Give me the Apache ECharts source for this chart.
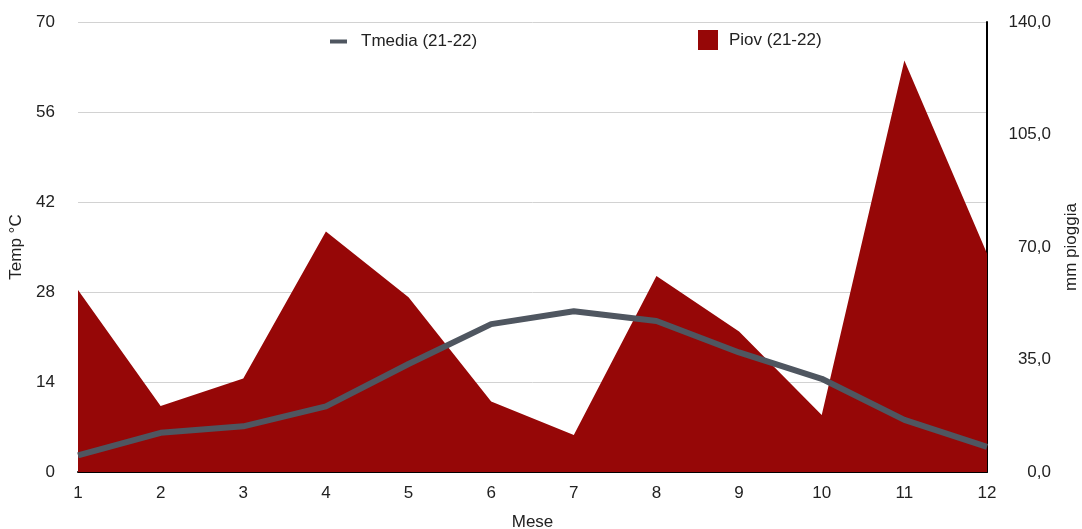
<!DOCTYPE html>
<html>
<head>
<meta charset="utf-8">
<script src="https://cdn.jsdelivr.net/npm/echarts@6/dist/echarts.min.js"></script>
<style>
  html, body { margin: 0; padding: 0; background: #fff; }
  #chart { width: 1082px; height: 529px; }
</style>
</head>
<body>
<div id="chart"></div>
<script>
// Monthly climate data, 2021-22
const months = ['1', '2', '3', '4', '5', '6', '7', '8', '9', '10', '11', '12'];
const tmedia = [2.6, 6.1, 7.1, 10.2, 16.8, 23.0, 25.0, 23.5, 18.6, 14.5, 8.1, 3.9];
const piov = [56.6, 20.5, 29.1, 74.8, 54.4, 21.9, 11.5, 61.0, 43.7, 17.7, 128.0, 68.0];
const tempTicks = { min: 0, max: 70, interval: 14 };
const rainTicks = { min: 0, max: 140, interval: 35 };

const FONT = 'Liberation Sans, Arial, Helvetica, sans-serif';
const TXT = { fontFamily: FONT, fontSize: 17, color: '#222' };
const chart = echarts.init(document.getElementById('chart'));

chart.setOption({
  animation: false,
  backgroundColor: '#ffffff',
  textStyle: { fontFamily: FONT, color: '#222' },
  grid: { left: 78, right: 95, top: 22, bottom: 57, outerBoundsMode: 'none', containLabel: false },
  legend: [
    {
      data: [{ name: 'Tmedia (21-22)', icon: 'rect' }],
      left: 330, top: 33, padding: 0,
      itemWidth: 17, itemHeight: 4,
      textStyle: Object.assign({}, TXT, { padding: [0, 0, 0, 9] })
    },
    {
      data: [{ name: 'Piov (21-22)', icon: 'rect' }],
      left: 698, top: 30, padding: 0,
      itemWidth: 20, itemHeight: 20,
      textStyle: Object.assign({}, TXT, { padding: [0, 0, 0, 6] })
    }
  ],
  xAxis: {
    type: 'category',
    data: months,
    boundaryGap: false,
    name: 'Mese',
    nameLocation: 'middle',
    nameGap: 42,
    nameTextStyle: TXT,
    axisLine: { show: true, lineStyle: { color: '#000', width: 2 } },
    axisTick: { show: false },
    axisLabel: Object.assign({ margin: 13 }, TXT),
    splitLine: { show: false }
  },
  yAxis: [
    {
      type: 'value',
      position: 'left',
      min: tempTicks.min, max: tempTicks.max, interval: tempTicks.interval,
      name: 'Temp °C',
      nameLocation: 'middle',
      nameGap: 44,
      nameRotate: 90,
      nameTextStyle: TXT,
      axisLine: { show: false },
      axisTick: { show: false },
      axisLabel: Object.assign({ margin: 23 }, TXT),
      splitLine: { show: true, lineStyle: { color: '#d2d2d2', width: 1 } }
    },
    {
      type: 'value',
      position: 'right',
      min: rainTicks.min, max: rainTicks.max, interval: rainTicks.interval,
      name: 'mm pioggia',
      nameLocation: 'middle',
      nameGap: 76,
      nameRotate: 90,
      nameTextStyle: TXT,
      axisLine: { show: true, lineStyle: { color: '#000', width: 2 } },
      axisTick: { show: false },
      axisLabel: Object.assign({
        margin: 64, align: 'right',
        formatter: v => v.toFixed(1).replace('.', ',')
      }, TXT),
      splitLine: { show: false }
    }
  ],
  series: [
    {
      name: 'Piov (21-22)',
      type: 'line',
      yAxisIndex: 1,
      data: piov,
      symbol: 'none',
      color: '#960707',
      lineStyle: { width: 0 },
      areaStyle: { color: '#960707', opacity: 1 },
      z: 2
    },
    {
      name: 'Tmedia (21-22)',
      type: 'line',
      yAxisIndex: 0,
      data: tmedia,
      symbol: 'none',
      color: '#4f5660',
      lineStyle: { width: 6, color: '#4f5660', join: 'round' },
      z: 3
    }
  ]
});
</script>
</body>
</html>
